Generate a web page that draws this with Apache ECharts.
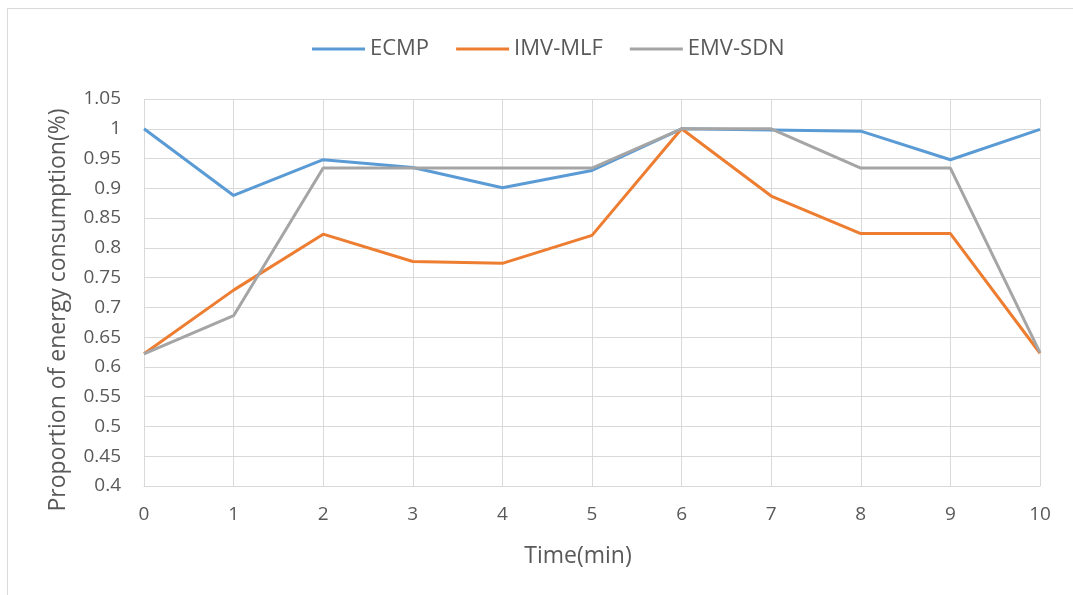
<!DOCTYPE html>
<html><head><meta charset="utf-8">
<script src="https://cdn.jsdelivr.net/npm/echarts@6/dist/echarts.min.js"></script>
<style>
html,body{margin:0;padding:0;background:#fff;}
#frame{position:absolute;left:7px;top:8px;width:1080px;height:600px;border:1px solid #d9d9d9;}
#c{position:absolute;left:0;top:0;width:1073px;height:595px;}
</style></head>
<body><div id="frame"></div><div id="c"></div>
<script>
const times = [0,1,2,3,4,5,6,7,8,9,10];
const seriesNames = ['ECMP','IMV-MLF','EMV-SDN'];
const ecmp   = [1.0, 0.888, 0.948, 0.935, 0.901, 0.930, 1.0, 0.998, 0.996, 0.948, 0.999];
const imvMlf = [0.622, 0.729, 0.823, 0.777, 0.774, 0.821, 1.0, 0.887, 0.824, 0.824, 0.623];
const emvSdn = [0.622, 0.686, 0.934, 0.934, 0.934, 0.934, 1.0, 1.0, 0.934, 0.934, 0.624];
const xTitle = 'Time(min)';
const yTitle = 'Proportion of energy consumption(%)';
const colors = ['#5B9BD5','#ED7D31','#A5A5A5'];
const font = 'Open Sans';
const txt = '#595959';
const allData = [ecmp, imvMlf, emvSdn];
const chart = echarts.init(document.getElementById('c'));
chart.setOption({
  animation:false,
  backgroundColor:'transparent',
  color: colors,
  legend:{
    top: 33, left: 307, itemWidth: 53, itemHeight: 3, itemGap: 27,
    icon: 'rect',
    textStyle:{fontFamily:font, fontSize:22, color:txt},
    data: seriesNames
  },
  graphic:[
    {type:'text', x:578, y:556, style:{text:xTitle, fontFamily:font, fontSize:23, fill:txt, align:'center', verticalAlign:'middle'}},
    {type:'text', x:58, y:310, rotation:Math.PI/2, style:{text:yTitle, fontFamily:font, fontSize:23, fill:txt, align:'center', verticalAlign:'middle'}}
  ],
  grid:{left:144, right:33, top:99, bottom:109, containLabel:false},
  xAxis:{
    type:'value', min:0, max:10, interval:1,
    axisLine:{show:true, lineStyle:{color:'#d9d9d9', width:1}},
    axisTick:{show:false},
    axisLabel:{fontFamily:font, fontSize:19, color:txt, margin:19},
    splitLine:{show:true, lineStyle:{color:'#d9d9d9', width:1}}
  },
  yAxis:{
    type:'value', min:0.4, max:1.05, interval:0.05,
    axisLine:{show:false},
    axisTick:{show:false},
    axisLabel:{fontFamily:font, fontSize:19, color:txt, margin:23,
      formatter: v => String(Math.round(v*100)/100)},
    splitLine:{show:true, lineStyle:{color:'#d9d9d9', width:1}}
  },
  series: seriesNames.map((n,i)=>({
    name:n, type:'line', showSymbol:false, symbol:'none',
    lineStyle:{width:3, color:colors[i]},
    data: times.map((t,j)=>[t, allData[i][j]])
  }))
});
</script></body></html>
